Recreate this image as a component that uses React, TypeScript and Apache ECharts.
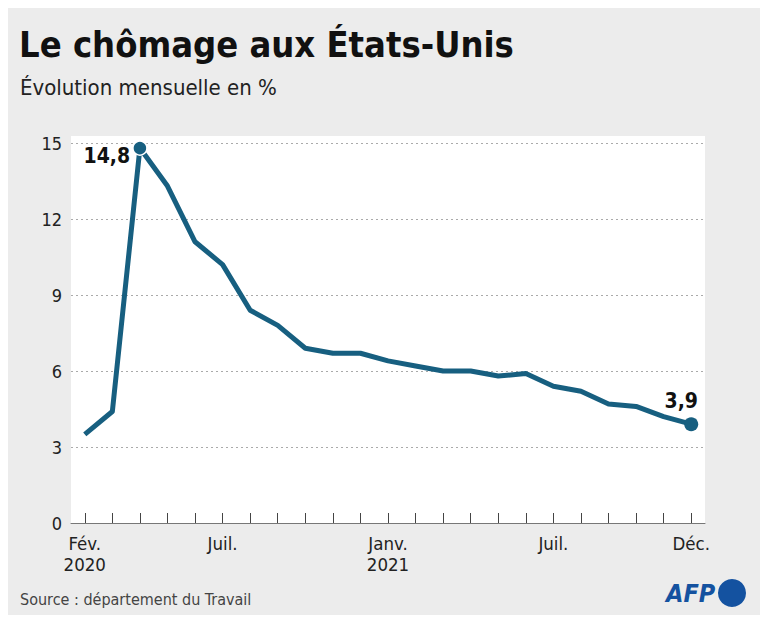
import React, { useEffect, useRef } from "react";
import * as echarts from "echarts";

const months: string[] = [
  "2020-02", "2020-03", "2020-04", "2020-05", "2020-06", "2020-07", "2020-08",
  "2020-09", "2020-10", "2020-11", "2020-12", "2021-01", "2021-02", "2021-03",
  "2021-04", "2021-05", "2021-06", "2021-07", "2021-08", "2021-09", "2021-10",
  "2021-11", "2021-12",
];
const unemployment: number[] = [
  3.5, 4.4, 14.8, 13.3, 11.1, 10.2, 8.4, 7.8, 6.9, 6.7, 6.7, 6.4, 6.2, 6.0,
  6.0, 5.8, 5.9, 5.4, 5.2, 4.7, 4.6, 4.2, 3.9,
];
const tickLabels: Record<string, string> = {
  "2020-02": "Fév.\n2020",
  "2020-07": "Juil.",
  "2021-01": "Janv.\n2021",
  "2021-07": "Juil.",
  "2021-12": "Déc.",
};
const highlighted: number[] = [2, 22];

const FONT = "'Liberation Sans Narrow', 'DejaVu Sans Condensed', Roboto, sans-serif";
const LINE = "#175f80";

export default function App() {
  const ref = useRef<HTMLDivElement>(null);
  useEffect(() => {
    if (!ref.current) return;
    const chart = echarts.init(ref.current, null, { renderer: "svg" });
    const fmt = (v: number) => v.toFixed(1).replace(".", ",");
    chart.setOption({
      animation: false,
      backgroundColor: "#ececec",
      textStyle: { fontFamily: FONT },
      grid: {
        left: 71, right: 63, top: 143, bottom: 100,
        show: true, backgroundColor: "#ffffff", borderWidth: 0,
      },
      graphic: [
        { type: "rect", left: 0, top: 0, shape: { width: 768, height: 5 }, style: { fill: "#111" } },
        { type: "rect", left: 71, top: 136, shape: { width: 634, height: 8 }, style: { fill: "#fff" }, z: -1 },
        {
          type: "text", left: 19, top: 26,
          style: { text: "Le chômage aux États-Unis", font: `bold 36px ${FONT}`, fill: "#111" },
        },
        {
          type: "text", left: 20, top: 76,
          style: { text: "Évolution mensuelle en %", font: `22px ${FONT}`, fill: "#222" },
        },
        {
          type: "text", left: 20, top: 591,
          style: { text: "Source : département du Travail", font: `16px ${FONT}`, fill: "#444" },
        },
        {
          type: "text", left: 666, top: 581,
          style: { text: "AFP", font: `italic bold 25px ${FONT}`, fill: "#1452a0" },
        },
        { type: "circle", shape: { cx: 732, cy: 593, r: 14 }, style: { fill: "#1452a0" } },
      ],
      xAxis: {
        type: "category",
        data: months,
        boundaryGap: true,
        axisLine: { lineStyle: { color: "#777", width: 1 } },
        axisTick: { show: true, inside: true, length: 10, alignWithLabel: true, interval: 0, lineStyle: { color: "#444" } },
        axisLabel: {
          interval: (i: number, v: string) => v in tickLabels,
          formatter: (v: string) => tickLabels[v] ?? "",
          fontSize: 18.5, lineHeight: 21, color: "#222", margin: 10, fontFamily: FONT,
        },
        splitLine: { show: false },
      },
      yAxis: {
        type: "value",
        min: 0, max: 15, interval: 3,
        axisLine: { show: false },
        axisTick: { show: false },
        axisLabel: { fontSize: 18, color: "#222", margin: 9, fontFamily: FONT },
        splitLine: { lineStyle: { color: "#aaa", type: [2, 3], width: 1 } },
      },
      series: [
        {
          type: "line",
          symbol: "none",
          lineStyle: { color: LINE, width: 5, join: "round" },
          itemStyle: { color: LINE },
          z: 3,
          data: unemployment.map((v, i) =>
            highlighted.includes(i)
              ? {
                  value: v,
                  symbol: "circle",
                  symbolSize: 14,
                  itemStyle: { color: LINE, borderColor: "#fff", borderWidth: i === 2 ? 1.5 : 0 },
                  label: {
                    show: true,
                    position: i === 2 ? "left" : "top",
                    offset: i === 2 ? [3, 8] : [-10, -1],
                    formatter: () => fmt(v),
                    fontSize: 21, fontWeight: "bold", color: "#111", fontFamily: FONT,
                  },
                }
              : v
          ),
        },
      ],
    });
    return () => chart.dispose();
  }, []);
  return <div ref={ref} style={{ width: 768, height: 623, margin: -8 }} />;
}
